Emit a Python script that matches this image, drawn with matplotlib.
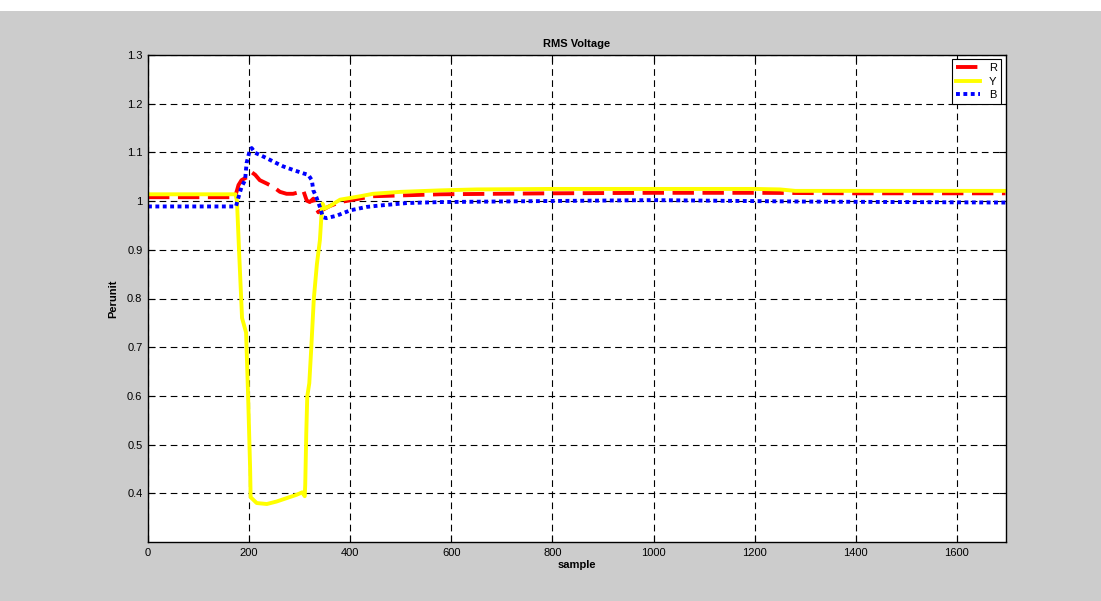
import matplotlib
matplotlib.use("Agg")
import matplotlib.pyplot as plt
from matplotlib.patches import Rectangle

plt.rcParams['font.family'] = ['Liberation Sans', 'DejaVu Sans']

# Phase R (red, dashed)
r_x = [0, 172, 176, 179, 185, 192, 198, 204, 212, 221, 235, 248, 261, 274, 287,
       301, 307, 314, 320, 327, 330, 337, 343, 360, 380, 445, 577, 800, 1000,
       1200, 1400, 1600, 1696]
r_y = [1.008, 1.008, 1.022, 1.033, 1.043, 1.047, 1.050, 1.060, 1.054, 1.043,
       1.036, 1.029, 1.019, 1.015, 1.015, 1.019, 1.022, 1.001, 0.998, 1.005,
       0.991, 0.977, 0.981, 0.990, 0.998, 1.010, 1.014, 1.016, 1.017, 1.017,
       1.016, 1.016, 1.016]

# Phase Y (yellow, solid)
y_x = [0, 173, 176, 180, 186, 190, 194, 198, 202, 203, 215, 235, 254, 274, 294,
       305, 310, 311, 313, 315, 319, 323, 328, 334, 340, 343, 345, 350, 360,
       380, 420, 445, 500, 577, 650, 800, 1000, 1200, 1250, 1280, 1400, 1600,
       1696]
y_y = [1.014, 1.014, 1.000, 0.900, 0.760, 0.745, 0.730, 0.600, 0.450, 0.392,
       0.380, 0.378, 0.383, 0.390, 0.397, 0.402, 0.394, 0.418, 0.522, 0.599,
       0.626, 0.700, 0.800, 0.870, 0.920, 0.970, 0.995, 0.985, 0.990, 1.003,
       1.010, 1.015, 1.019, 1.022, 1.024, 1.025, 1.025, 1.025, 1.024, 1.021,
       1.021, 1.021, 1.021]

# Phase B (blue, dotted)
b_x = [0, 174, 179, 185, 192, 195, 200, 205, 212, 221, 235, 248, 268, 287, 307,
       317, 324, 327, 333, 340, 346, 353, 373, 400, 432, 459, 512, 577, 775,
       1000, 1100, 1300, 1500, 1696]
b_y = [0.989, 0.989, 1.008, 1.029, 1.043, 1.078, 1.099, 1.109, 1.099, 1.095,
       1.088, 1.081, 1.071, 1.064, 1.057, 1.054, 1.043, 1.022, 1.008, 0.988,
       0.967, 0.965, 0.970, 0.981, 0.988, 0.991, 0.996, 0.998, 1.000, 1.002,
       1.001, 0.999, 0.998, 0.997]

x_ticks = [0, 200, 400, 600, 800, 1000, 1200, 1400, 1600]
y_ticks = [0.4, 0.5, 0.6, 0.7, 0.8, 0.9, 1.0, 1.1, 1.2, 1.3]
y_tick_labels = ['0.4', '0.5', '0.6', '0.7', '0.8', '0.9', '1', '1.1', '1.2', '1.3']

fig = plt.figure(figsize=(11.01, 6.01), dpi=100, facecolor='white')
# grey figure backdrop below a thin white strip
fig.patches.append(Rectangle((0, 0), 1, 1 - 11 / 601, transform=fig.transFigure,
                             facecolor='#cccccc', edgecolor='none', zorder=-10))

ax = fig.add_axes([148 / 1101, 1 - 542 / 601, (1005.5 - 148) / 1101, (542 - 55) / 601])
ax.set_facecolor('white')

lw = 2.8
ax.plot(r_x, r_y, color='red', lw=lw, linestyle=(0, (5.5, 2.2)), label='R')
ax.plot(y_x, y_y, color='yellow', lw=lw, linestyle='-', label='Y')
ax.plot(b_x, b_y, color='blue', lw=lw, linestyle=(0, (1.0, 0.9)), label='B')

ax.set_xlim(0, 1696)
ax.set_ylim(0.3, 1.3)
ax.set_xticks(x_ticks)
ax.set_yticks(y_ticks)
ax.set_yticklabels(y_tick_labels)

ax.grid(True, color='black', linestyle=(0, (6, 4)), linewidth=0.8)
ax.set_axisbelow(True)
ax.tick_params(direction='in', length=5, width=0.8, top=True, right=True,
               labelsize=8, colors='black', pad=4)
for s in ax.spines.values():
    s.set_linewidth(1.0)
    s.set_color('black')

ax.set_title('RMS Voltage', fontsize=8, fontweight='bold', pad=6)
ax.set_xlabel('sample', fontsize=8, fontweight='bold', labelpad=2)
ax.set_ylabel('Perunit', fontsize=8, fontweight='bold', labelpad=6)

leg = ax.legend(loc='upper right', fontsize=8, fancybox=False, framealpha=1,
                edgecolor='black', handlelength=2.2, borderaxespad=0.4,
                borderpad=0.35, labelspacing=0.3, handletextpad=0.8)
leg.get_frame().set_linewidth(0.8)

fig.savefig('out.png', dpi=100, facecolor=fig.get_facecolor())
